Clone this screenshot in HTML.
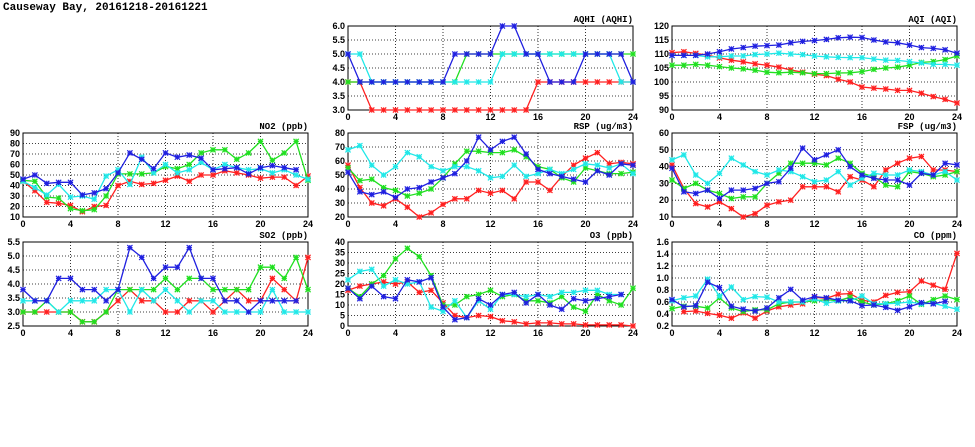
<!DOCTYPE html>
<html><head><meta charset="utf-8"><style>
body{margin:0;background:#fff;width:975px;height:447px;overflow:hidden}
svg{display:block}
text{font-family:"Liberation Sans",sans-serif;font-weight:bold;font-size:9px;fill:#000}
</style></head><body>
<svg id="chart" width="975" height="447" xmlns="http://www.w3.org/2000/svg">
<text x="3" y="10" style="font-family:'Liberation Mono',monospace;font-size:11px">Causeway Bay, 20161218-20161221</text>
</svg>
<script>
const hours=[0,1,2,3,4,5,6,7,8,9,10,11,12,13,14,15,16,17,18,19,20,21,22,23,24];
const xTicks=[0,4,8,12,16,20,24];
const aqhiRed=[4,4,3,3,3,3,3,3,3,3,3,3,3,3,3,3,4,4,4,4,4,4,4,4,4];
const aqhiGreen=[4,4,4,4,4,4,4,4,4,4,5,5,5,5,5,5,5,5,5,5,5,5,5,5,5];
const aqhiCyan=[5,5,4,4,4,4,4,4,4,4,4,4,4,5,5,5,5,5,5,5,5,5,5,4,4];
const aqhiBlue=[5,4,4,4,4,4,4,4,4,5,5,5,5,6,6,5,5,4,4,4,5,5,5,5,4];
const aqiRed=[110.5,110.8,110.2,109.6,108.6,107.8,107.2,106.5,106,105.3,104.3,103.5,102.8,102.3,101,100,98.2,97.8,97.5,97,97,96,94.8,93.8,92.5];
const aqiGreen=[106,106,106.3,106,105.5,105,104.7,104.2,103.5,103.3,103.5,103.3,103,103,103.2,103.3,103.7,104.5,105,105.3,106,107,107.3,108,109.3];
const aqiCyan=[109.5,109.5,109.5,109,109,109.3,109.3,109.8,110,110.3,110,109.8,109.3,109,108.8,108.7,108.7,108.2,107.8,107.7,107.3,106.8,106.3,106.3,106];
const aqiBlue=[109.5,109.5,109.5,110,110.8,111.8,112.3,112.8,113,113.2,114,114.5,114.8,115.2,115.8,116,115.9,115,114.3,114,113.2,112.3,112,111.5,110.3];
const no2Red=[44,35,24,23,21,15,20,21,40,44,41,42,45,49,44,50,50,54,52,50,47,48,48,40,49];
const no2Green=[45,44,29,28,18,16,17,30,51,51,51,52,58,56,60,71,74,74,65,71,82,64,71,82,45];
const no2Cyan=[44,38,31,41,29,30,27,49,55,41,67,52,60,52,55,62,55,60,57,55,56,52,55,50,46];
const no2Blue=[46,50,42,43,43,31,33,37,52,71,65,56,71,67,69,66,55,56,57,51,57,59,57,55,null];
const rspRed=[57,41,30,28,33,27,20,23,29,33,33,39,37,39,33,45,45,39,49,57,62,66,58,59,58];
const rspGreen=[55,46,47,41,39,35,37,40,48,58,67,67,66,66,68,63,56,54,48,45,55,53,51,51,52];
const rspCyan=[68,71,57,50,56,66,63,56,53,56,56,53,48,49,57,49,51,54,51,54,58,57,55,58,51];
const rspBlue=[52,38,36,38,34,40,41,45,48,51,60,77,68,74,77,65,54,51,49,47,45,53,50,58,57];
const fspRed=[41,27,18,16,19,15,10,12,17,19,20,28,28,28,25,34,32,28,38,42,45,46,38,38,37];
const fspGreen=[32,27,30,26,24,21,22,22,30,36,42,42,42,41,45,42,36,34,29,28,37,36,34,35,37];
const fspCyan=[44,47,35,30,36,45,41,37,35,38,37,34,31,32,37,29,33,36,35,35,38,37,35,37,32];
const fspBlue=[39,25,24,26,21,26,26,27,30,31,39,51,44,47,50,40,35,33,32,32,29,36,35,42,41];
const so2Red=[3.0,3.0,3.0,3.0,3.0,2.65,2.65,3.0,3.4,3.8,3.4,3.4,3.0,3.0,3.4,3.4,3.0,3.4,3.8,3.4,3.4,4.2,3.8,3.4,4.95];
const so2Green=[3.0,3.0,3.4,3.0,3.0,2.65,2.65,3.0,3.8,3.8,3.8,3.8,4.2,3.8,4.2,4.2,3.8,3.8,3.8,3.8,4.6,4.6,4.2,4.95,3.8];
const so2Cyan=[3.4,3.4,3.4,3.0,3.4,3.4,3.4,3.8,3.8,3.0,3.8,3.4,3.8,3.4,3.0,3.4,3.4,3.0,3.0,3.0,3.0,3.8,3.0,3.0,3.0];
const so2Blue=[3.8,3.4,3.4,4.2,4.2,3.8,3.8,3.4,3.8,5.3,4.95,4.2,4.6,4.6,5.3,4.2,4.2,3.4,3.4,3.0,3.4,3.4,3.4,3.4,null];
const o3Red=[17,19,20,21,20,21,16,17,11,5,4,5,4.5,2.5,2,1,1.5,1.5,1,1,0.5,0.5,0.5,0.5,0];
const o3Green=[18,14,20,24,32,37,33,24,10,10,14,15,17,14,15,12,12,11,14,9,7,15,12,10,18];
const o3Cyan=[22,26,27,19,22,20,21,9,7,12,4,12,8,15,15,14,15,14,16,16,17,17,15,15,null];
const o3Blue=[18,13,19,14,13,22,21,23,9,3,4,13,10,15,16,11,15,10,8,13,12,13,14,15,null];
const coRed=[null,0.44,0.45,0.41,0.38,0.33,0.42,0.33,0.45,0.52,0.55,0.57,0.68,0.66,0.73,0.74,0.63,0.6,0.71,0.76,0.77,0.95,0.88,0.81,1.41];
const coGreen=[0.49,0.53,0.53,0.5,0.67,0.5,0.44,0.47,0.47,0.57,0.6,0.6,0.62,0.64,0.62,0.68,0.6,0.55,0.57,0.62,0.7,0.56,0.64,0.7,0.64];
const coCyan=[0.62,0.67,0.7,0.98,0.7,0.85,0.64,0.69,0.68,0.6,0.6,0.6,0.65,0.58,0.62,0.62,0.7,0.57,0.57,0.58,0.6,0.57,0.58,0.53,0.48];
const coBlue=[0.64,0.52,0.54,0.93,0.84,0.53,0.48,0.45,0.5,0.67,0.81,0.63,0.69,0.67,0.63,0.62,0.54,0.55,0.51,0.46,0.52,0.59,0.57,0.61,null];

const NS="http://www.w3.org/2000/svg";
const svg=document.getElementById('chart');
const COLORS=['#ff2020','#20e020','#20e8e8','#2020e0'];
const CNAMES=['red','green','cyan','blue'];
const panels=[
 {id:'aqhi',title:'AQHI (AQHI)',x:348,y:26,min:3,max:6,step:0.5,dec:1,series:[aqhiRed,aqhiGreen,aqhiCyan,aqhiBlue]},
 {id:'aqi',title:'AQI (AQI)',x:672,y:26,min:90,max:120,step:5,dec:0,series:[aqiRed,aqiGreen,aqiCyan,aqiBlue]},
 {id:'no2',title:'NO2 (ppb)',x:23,y:133,min:10,max:90,step:10,dec:0,series:[no2Red,no2Green,no2Cyan,no2Blue]},
 {id:'rsp',title:'RSP (ug/m3)',x:348,y:133,min:20,max:80,step:10,dec:0,series:[rspRed,rspGreen,rspCyan,rspBlue]},
 {id:'fsp',title:'FSP (ug/m3)',x:672,y:133,min:10,max:60,step:10,dec:0,series:[fspRed,fspGreen,fspCyan,fspBlue]},
 {id:'so2',title:'SO2 (ppb)',x:23,y:242,min:2.5,max:5.5,step:0.5,dec:1,series:[so2Red,so2Green,so2Cyan,so2Blue]},
 {id:'o3',title:'O3 (ppb)',x:348,y:242,min:0,max:40,step:5,dec:0,series:[o3Red,o3Green,o3Cyan,o3Blue]},
 {id:'co',title:'CO (ppm)',x:672,y:242,min:0.2,max:1.6,step:0.2,dec:1,series:[coRed,coGreen,coCyan,coBlue]}
];
const W=285,H=84;
function mk(tag,attrs,parent){const e=document.createElementNS(NS,tag);for(const k in attrs)e.setAttribute(k,attrs[k]);(parent||svg).appendChild(e);return e;}
panels.forEach(p=>{
  const g=mk('g',{});
  
  
  const xs=h=>p.x+h/24*W;
  const ys=v=>p.y+H-(v-p.min)/(p.max-p.min)*H;
  const n=Math.round((p.max-p.min)/p.step);
  for(let i=0;i<=n;i++){
    const v=p.min+i*p.step,yy=ys(v);
    if(i>0&&i<n){const gl=mk('line',{x1:p.x,x2:p.x+W,y1:yy,y2:yy,stroke:'#000','stroke-width':0.8,'stroke-dasharray':'1,2'},g);
      }
    const t=mk('text',{x:p.x-3,y:yy+3,'text-anchor':'end'},g);t.textContent=v.toFixed(p.dec);
    
  }
  xTicks.forEach(h=>{
    const xx=xs(h);
    if(h>0&&h<24){const gl=mk('line',{x1:xx,x2:xx,y1:p.y,y2:p.y+H,stroke:'#000','stroke-width':0.8,'stroke-dasharray':'1,2'},g);
      }
    const t=mk('text',{x:xx,y:p.y+H+10,'text-anchor':'middle'},g);t.textContent=h;
    
  });
  const fr=mk('rect',{x:p.x,y:p.y,width:W,height:H,fill:'none',stroke:'#000','stroke-width':1},g);
  
  const tt=mk('text',{x:p.x+W,y:p.y-4,'text-anchor':'end',style:"font-family:'Liberation Mono',monospace;font-size:9px"},g);
  tt.textContent=p.title;
  
  p.series.forEach((arr,si)=>{
    const sg=mk('g',{},g);
    
    
    let d='';let pen=false;
    arr.forEach((v,i)=>{if(v===null){pen=false;return;}d+=(pen?'L':'M')+xs(hours[i]).toFixed(1)+','+ys(v).toFixed(1);pen=true;});
    const ln=mk('path',{d:d,fill:'none',stroke:COLORS[si],'stroke-width':1.3},sg);
    
    arr.forEach((v,i)=>{
      if(v===null)return;
      const cx=xs(hours[i]),cy=ys(v),r=2.6;
      const m=mk('path',{d:`M${cx-r},${cy-r}L${cx+r},${cy+r}M${cx-r},${cy+r}L${cx+r},${cy-r}M${cx},${cy-r}L${cx},${cy+r}M${cx-r},${cy}L${cx+r},${cy}`,stroke:COLORS[si],'stroke-width':1.2},sg);
      
    });
  });
});
</script>
</body></html>
